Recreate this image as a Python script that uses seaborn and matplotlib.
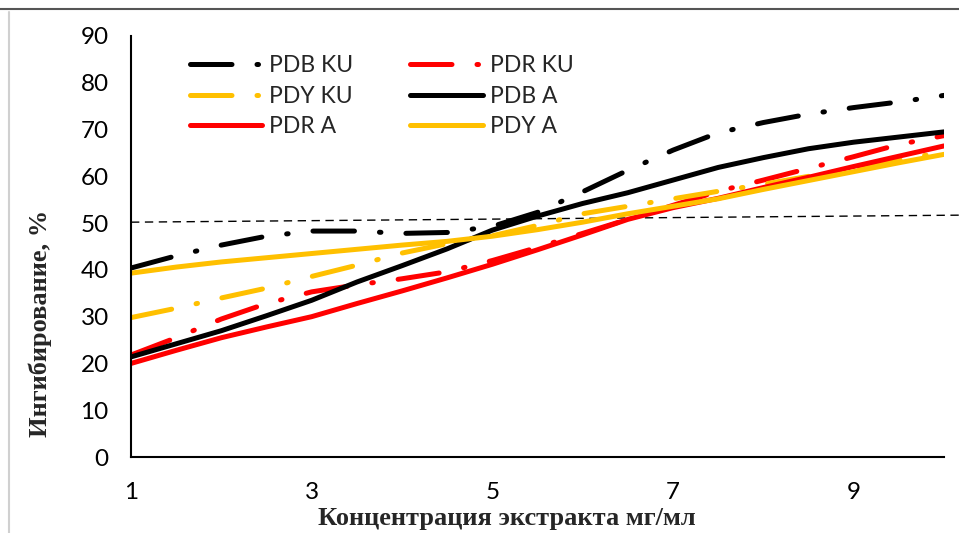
import matplotlib
matplotlib.use("Agg")
import matplotlib.pyplot as plt
from matplotlib.lines import Line2D
import seaborn as sns
import pandas as pd

# ---- data ----
conc = [1, 1.5, 2, 2.5, 3, 3.5, 4, 4.5, 5, 5.5, 6, 6.5, 7, 7.5, 8, 8.5, 9, 9.5, 10]
pdb_ku = [40.4, 43.0, 45.3, 47.2, 48.3, 48.3, 47.8, 48.0, 49.3, 52.3, 56.7, 61.3, 65.6, 69.3, 71.5, 73.3, 74.7, 75.9, 77.3]
pdr_ku = [21.8, 25.5, 29.5, 32.8, 35.3, 36.8, 38.1, 39.6, 42.0, 44.8, 47.8, 50.8, 53.8, 56.8, 59.2, 61.7, 64.2, 66.8, 68.7]
pdy_ku = [29.8, 31.8, 34.0, 36.1, 38.6, 41.0, 43.6, 45.6, 47.3, 49.5, 52.0, 53.6, 55.2, 56.8, 58.3, 60.0, 61.8, 63.5, 65.2]
pdb_a = [21.4, 24.2, 27.0, 30.2, 33.5, 37.4, 40.9, 44.5, 48.5, 51.5, 54.2, 56.5, 59.2, 61.9, 64.0, 65.9, 67.3, 68.4, 69.5]
pdr_a = [20.0, 22.8, 25.5, 27.8, 30.0, 32.8, 35.5, 38.3, 41.2, 44.3, 47.5, 50.8, 53.3, 55.3, 57.6, 59.8, 62.1, 64.3, 66.5]
pdy_a = [39.3, 40.6, 41.7, 42.6, 43.5, 44.4, 45.3, 46.1, 47.2, 48.6, 50.2, 52.0, 53.6, 55.2, 57.2, 59.1, 61.0, 62.9, 64.7]
ref_x = [1, 10.17]
ref_y = [50.2, 51.7]

series_names = ["PDB KU", "PDR KU", "PDY KU", "PDB A", "PDR A", "PDY A"]
series_vals = [pdb_ku, pdr_ku, pdy_ku, pdb_a, pdr_a, pdy_a]
x_ticks = [1, 3, 5, 7, 9]
y_ticks = [0, 10, 20, 30, 40, 50, 60, 70, 80, 90]
x_label = "Концентрация экстракта мг/мл"
y_label = "Ингибирование, %"

BLACK, RED, GOLD = "#000000", "#FF0000", "#FFC000"
colors = [BLACK, RED, GOLD, BLACK, RED, GOLD]
LW = 3.6
dashdot = (0, (8.3, 5.0, 0.3, 5.0))
styles = [dashdot, dashdot, dashdot, "-", "-", "-"]

sns.set_style("white")
plt.rcParams["font.family"] = ["Lato", "DejaVu Sans"]
plt.rcParams["lines.dash_capstyle"] = "round"
plt.rcParams["lines.solid_capstyle"] = "round"

fig = plt.figure(figsize=(9.59, 5.33), dpi=100)
ax = fig.add_axes([131 / 959, 1 - 457 / 533, 813 / 959, 421 / 533])

style_of = {}
for name, vals, c, ls in zip(series_names, series_vals, colors, styles):
    df = pd.DataFrame({"x": conc, "y": vals})
    sns.lineplot(data=df, x="x", y="y", ax=ax, color=c, legend=False)
    ln = ax.lines[-1]
    ln.set_linewidth(LW)
    ln.set_linestyle(ls)
    ln.set_dash_capstyle("round")
    ln.set_solid_capstyle("round")
    style_of[name] = (c, ls)

ref_df = pd.DataFrame({"x": ref_x, "y": ref_y})
sns.lineplot(data=ref_df, x="x", y="y", ax=ax, color="black", legend=False)
rl = ax.lines[-1]
rl.set_linewidth(1.0)
rl.set_linestyle((0, (6, 4)))
rl.set_dash_capstyle("butt")
rl.set_clip_on(False)
rl.set_zorder(1)

ax.set_xlim(1, 10)
ax.set_ylim(0, 90)
ax.set_xticks(x_ticks)
ax.set_yticks(y_ticks)
for side in ["top", "right"]:
    ax.spines[side].set_visible(False)
for side in ["left", "bottom"]:
    ax.spines[side].set_linewidth(1.5)
    ax.spines[side].set_color("black")
ax.tick_params(axis="both", direction="in", length=6, width=1.5, color="black",
               labelsize=17.5, labelcolor="black")
ax.tick_params(axis="x", pad=18)
ax.tick_params(axis="y", pad=16)

ax.set_xlabel(x_label, family=["Liberation Serif", "DejaVu Serif"], weight="bold",
              fontsize=19, va="center")
ax.set_ylabel(y_label, family=["Liberation Serif", "DejaVu Serif"], weight="bold",
              fontsize=19, va="center")
ax.xaxis.set_label_coords((507 - 131) / 813, (457 - 518) / 421)
ax.yaxis.set_label_coords((40 - 131) / 813, (457 - 323) / 421)

order = ["PDB KU", "PDY KU", "PDR A", "PDR KU", "PDB A", "PDY A"]
leg_handles = []
for name in order:
    c, ls = style_of[name]
    leg_handles.append(Line2D([], [], color=c, lw=LW, linestyle=ls,
                              dash_capstyle="round", solid_capstyle="round"))
ax.legend(leg_handles, order, ncol=2, loc="upper left",
          bbox_to_anchor=((190 - 131) / 813, (457 - 55) / 421),
          frameon=False, fontsize=16.5, handlelength=3.15, handletextpad=0.3,
          columnspacing=2.5, labelspacing=0.42, borderpad=0, borderaxespad=0)

fig.add_artist(Line2D([0, 1], [1 - 9 / 533, 1 - 9 / 533], color="#555555", lw=1.5,
                      transform=fig.transFigure))
fig.add_artist(Line2D([9 / 959, 9 / 959], [0, 1 - 12 / 533], color="#d0d0d0", lw=1.5,
                      transform=fig.transFigure))

fig.savefig("out.png", dpi=100)
